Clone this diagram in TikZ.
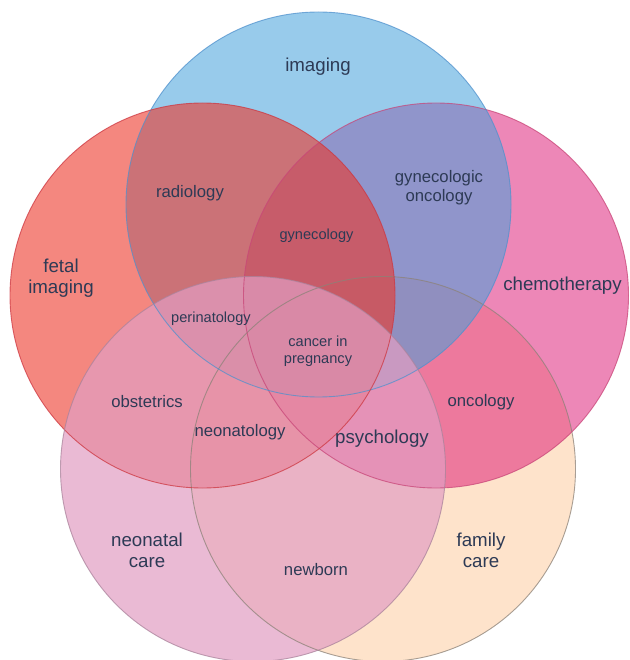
\documentclass[tikz,border=0pt]{standalone}
\usepackage{fontspec}
\setmainfont{Liberation Sans}
\definecolor{cfam}{RGB}{254,227,203}
\definecolor{cpink}{RGB}{221,17,113}
\definecolor{cblue}{RGB}{68,162,220}
\definecolor{cred}{RGB}{237,55,42}
\definecolor{cneo}{RGB}{226,158,195}
\definecolor{txt}{RGB}{45,58,85}
\definecolor{lfam}{RGB}{140,130,120}
\definecolor{lpink}{RGB}{200,70,120}
\definecolor{lblue}{RGB}{80,145,205}
\definecolor{lred}{RGB}{205,55,65}
\definecolor{lneo}{RGB}{170,130,155}
\tikzset{
  big/.style={text=txt, font=\fontsize{18.7}{21}\selectfont, align=center, inner sep=0pt},
  mid/.style={text=txt, font=\fontsize{16.7}{19}\selectfont, align=center, inner sep=0pt},
  small/.style={text=txt, font=\fontsize{14.6}{17}\selectfont, align=center, inner sep=0pt},
  rim/.style={line width=0.9pt, draw opacity=0.75}
}
\begin{document}
\begin{tikzpicture}[x=1pt,y=-1pt]
\useasboundingbox (0,0) rectangle (629,660);
\fill[white] (0,0) rectangle (629,660);
% circles (bottom to top)
\fill[cfam] (383,469) circle[radius=192.5pt];
\fill[cpink, fill opacity=0.5] (436,295.5) circle[radius=192.5pt];
\fill[cblue, fill opacity=0.55] (318.5,204.5) circle[radius=192.5pt];
\fill[cred, fill opacity=0.6] (202.5,295.5) circle[radius=192.5pt];
\fill[cneo, fill opacity=0.7] (253,469) circle[radius=192.5pt];
% outlines
\draw[rim, lfam] (383,469) circle[radius=192.5pt];
\draw[rim, lpink] (436,295.5) circle[radius=192.5pt];
\draw[rim, lblue] (318.5,204.5) circle[radius=192.5pt];
\draw[rim, lred] (202.5,295.5) circle[radius=192.5pt];
\draw[rim, lneo] (253,469) circle[radius=192.5pt];
% labels
\node[big] (imaging) at (318,67) {imaging};
\node[mid] (radiology) at (190,193) {radiology};
\node[mid] (gynonc) at (439,188) {gynecologic\\oncology};
\node[small] (gynecology) at (316.5,236) {gynecology};
\node[big] (fetal) at (61,278) {fetal\\imaging};
\node[big] (chemo) at (562.5,286) {chemotherapy};
\node[small] (perinat) at (211,319) {perinatology};
\node[small] (cancer) at (318,351) {cancer in\\pregnancy};
\node[mid] (obstet) at (147,402) {obstetrics};
\node[mid] (neonatology) at (240,432) {neonatology};
\node[big] (psych) at (382,439) {psychology};
\node[mid] (oncology) at (481,402) {oncology};
\node[big] (neocare) at (147,550) {neonatal\\care};
\node[mid] (newborn) at (316,570) {newborn};
\node[big] (famcare) at (481,550) {family\\care};
\end{tikzpicture}
\end{document}
